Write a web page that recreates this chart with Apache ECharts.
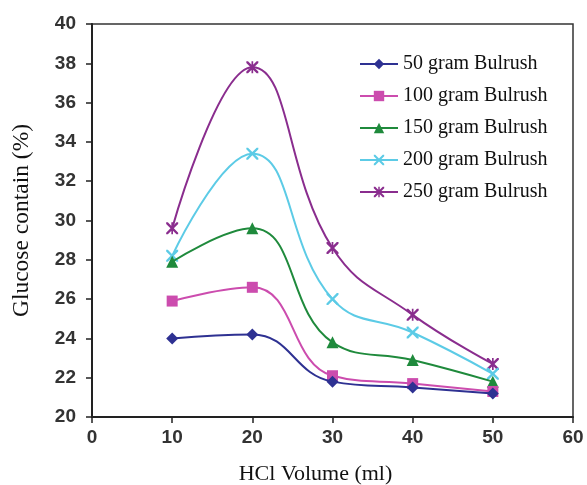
<!DOCTYPE html>
<html>
<head>
<meta charset="utf-8">
<style>
  html, body { margin: 0; padding: 0; background: #fff; }
  #chart { width: 587px; height: 485px; }
</style>
<script src="https://cdn.jsdelivr.net/npm/echarts@6/dist/echarts.min.js"></script>
</head>
<body>
<div id="chart"></div>
<script>
// data
var hclVolume = [10, 20, 30, 40, 50];
var seriesNames = ['50 gram Bulrush', '100 gram Bulrush', '150 gram Bulrush', '200 gram Bulrush', '250 gram Bulrush'];
var glucose50 = [24.0, 24.2, 21.8, 21.5, 21.2];
var glucose100 = [25.9, 26.6, 22.1, 21.7, 21.3];
var glucose150 = [27.9, 29.6, 23.8, 22.9, 21.8];
var glucose200 = [28.2, 33.4, 26.0, 24.3, 22.2];
var glucose250 = [29.6, 37.8, 28.6, 25.2, 22.7];

var colors = ['#2e3192', '#cc4cae', '#1f8a3c', '#5ccbe6', '#8a2d8e'];
var xMark = 'path://M0,0 L1.4,0 L5,3.6 L8.6,0 L10,0 L10,1.4 L6.4,5 L10,8.6 L10,10 L8.6,10 L5,6.4 L1.4,10 L0,10 L0,8.6 L3.6,5 L0,1.4 Z';
var starMark = xMark + ' M4.3,0 L5.7,0 L5.7,10 L4.3,10 Z';
var symbols = ['diamond', 'rect', 'triangle', xMark, starMark];
var symbolSizes = [12, 11, 12, 12, 12];
var allValues = [glucose50, glucose100, glucose150, glucose200, glucose250];

var serif = '"Liberation Serif", "Times New Roman", serif';
var sans = '"Liberation Sans", Arial, sans-serif';

var chart = echarts.init(document.getElementById('chart'), null, { renderer: 'canvas' });

var series = allValues.map(function(vals, i) {
  return {
    name: seriesNames[i],
    type: 'line',
    smooth: 0.45,
    data: hclVolume.map(function(x, j) { return [x, vals[j]]; }),
    symbol: symbols[i],
    symbolSize: symbolSizes[i],
    lineStyle: { color: colors[i], width: 2 },
    itemStyle: { color: colors[i] },
    z: 10 - i
  };
});

chart.setOption({
  animation: false,
  backgroundColor: '#fff',
  grid: {
    left: 92, right: 14, top: 24, bottom: 68,
    outerBoundsMode: 'none',
    containLabel: false,
    show: true, borderColor: '#333', borderWidth: 1.5
  },
  legend: {
    orient: 'vertical',
    left: 354,
    top: 49,
    itemWidth: 38,
    itemHeight: 13,
    itemGap: 12,
    textStyle: { fontFamily: serif, fontSize: 20, color: '#111' },
    data: seriesNames
  },
  xAxis: {
    type: 'value',
    min: 0, max: 60, interval: 10,
    name: 'HCl Volume (ml)',
    nameLocation: 'middle',
    nameGap: 46,
    nameTextStyle: { fontFamily: serif, fontSize: 22, color: '#111', padding: [0, 34, 0, 0] },
    axisLine: { lineStyle: { color: '#222', width: 2 } },
    axisTick: { show: true, length: 6, lineStyle: { color: '#222', width: 1.5 } },
    axisLabel: { fontFamily: sans, fontSize: 19, fontWeight: 'bold', color: '#333', margin: 11 },
    splitLine: { show: false }
  },
  yAxis: {
    type: 'value',
    min: 20, max: 40, interval: 2,
    name: 'Glucose contain (%)',
    nameLocation: 'middle',
    nameGap: 58,
    nameRotate: 90,
    nameTextStyle: { fontFamily: serif, fontSize: 23.5, color: '#111' },
    axisLine: { lineStyle: { color: '#222', width: 2 } },
    axisTick: { show: true, length: 6, lineStyle: { color: '#222', width: 1.5 } },
    axisLabel: { fontFamily: sans, fontSize: 19, fontWeight: 'bold', color: '#333', margin: 16 },
    splitLine: { show: false }
  },
  series: series
});
window.addEventListener('resize', function() { chart.resize(); });
</script>
</body>
</html>
